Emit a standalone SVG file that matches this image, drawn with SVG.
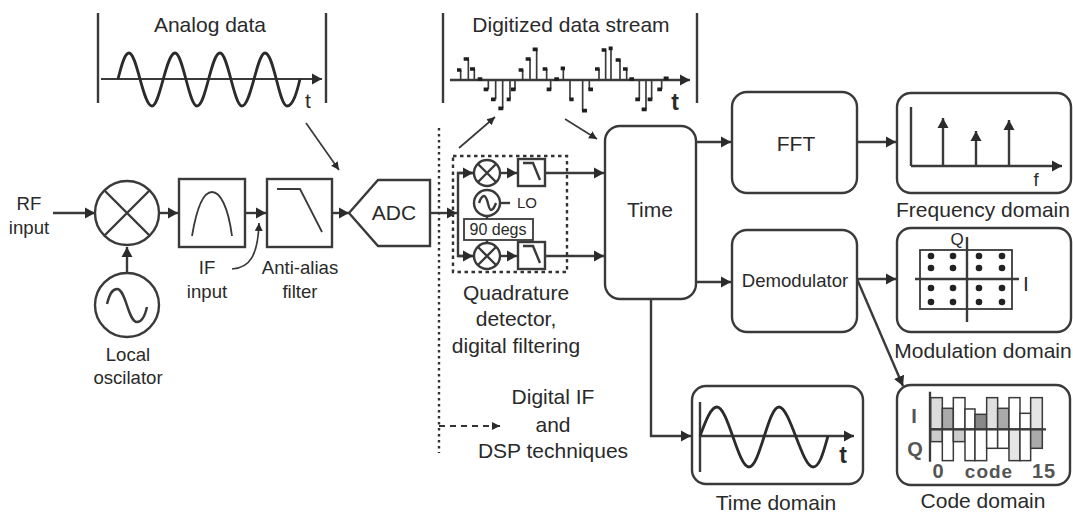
<svg xmlns="http://www.w3.org/2000/svg" width="1073" height="512" viewBox="0 0 1073 512">
<style>
text{font-family:"Liberation Sans",Arial,sans-serif;fill:#2a2a2a;font-size:21px;text-anchor:middle}
.s{font-size:18.6px}
.b{font-weight:bold}
.g{fill:#555}
.box{fill:#fff;stroke:#3a3a3a;stroke-width:2.4}
.ln{fill:none;stroke:#3a3a3a;stroke-width:2.4}
.th{fill:none;stroke:#3a3a3a;stroke-width:1.8}
.wave{fill:none;stroke:#2b2b2b;stroke-width:2.8}
.arr{fill:none;stroke:#3a3a3a;stroke-width:2.4;marker-end:url(#ah)}
.arrt{fill:none;stroke:#3a3a3a;stroke-width:1.7;marker-end:url(#ahs)}
.dot{fill:none;stroke:#333;stroke-width:2.4;stroke-dasharray:2.5 3.5}
.dash{fill:none;stroke:#333;stroke-width:1.8;stroke-dasharray:6 5;marker-end:url(#ahs)}
circle.d{fill:#222;stroke:none}
</style>
<defs>
<marker id="ah" markerUnits="userSpaceOnUse" markerWidth="11" markerHeight="12" refX="10" refY="6" orient="auto"><path d="M0 0.5L10 6L0 11.5Z" fill="#2b2b2b"/></marker>
<marker id="ahs" markerUnits="userSpaceOnUse" markerWidth="9" markerHeight="10" refX="8" refY="5" orient="auto"><path d="M0 1L8 5L0 9Z" fill="#2b2b2b"/></marker>
<g id="mix"><circle r="13" class="box"/><path d="M-9-9L9 9M9-9L-9 9" class="ln"/></g>
<g id="lp"><rect x="0" y="0" width="27" height="27" class="box"/><path d="M5 4H15L22 21" class="ln"/></g>
</defs>

<g id="connectors">
<path d="M53 213H95" class="arr"/>
<path d="M159 213H178" class="arr"/>
<path d="M245 213H266" class="arr"/>
<path d="M332 213H349" class="arr"/>
<path d="M127 272V247" class="arr"/>
<path d="M232 269C250 268 258 255 259 223" class="arrt"/>
<path d="M306 123L339 170" class="arrt"/>
<path d="M430 213H457" class="arr"/>
<path d="M473 173H458V256H473" class="ln"/>
<path d="M458 173H473" class="arr"/>
<path d="M458 256H473" class="arr"/>
<path d="M500 173H517" class="arr"/>
<path d="M500 256H517" class="arr"/>
<path d="M545 173H604" class="arr"/>
<path d="M545 256H604" class="arr"/>
<path d="M500 203H510" class="ln"/>
<path d="M487 216V219M487 240V243" class="ln"/>
<path d="M459 148L495 117" class="arrt"/>
<path d="M565 119L597 139" class="arrt"/>
<path d="M696 142H731" class="arr"/>
<path d="M857 142H896" class="arr"/>
<path d="M696 282H731" class="arr"/>
<path d="M857 279H896" class="arr"/>
<path d="M857 279L903 386" class="arr"/>
<path d="M651 299V436H691" class="arr"/>
<path d="M439 128V453" class="dot"/>
<path d="M439 426H500" class="dash"/>
</g>

<g id="rf-input"><text class="s" x="29" y="210">RF</text><text class="s" x="29" y="234">input</text></g>
<g id="mixer"><circle cx="127" cy="213" r="32" class="box"/><path d="M104 190L150 236M150 190L104 236" class="ln"/></g>
<g id="local-oscillator"><circle cx="127" cy="305" r="32" class="box"/><path d="M107 304C110 292 113 289 117 289C126 289 128 322 137 322C142 322 145 316 147 307" class="ln"/><text class="s" x="128" y="361">Local</text><text class="s" x="128" y="384">oscilator</text></g>
<g id="if-filter"><rect x="179" y="179" width="66" height="68" class="box"/><path d="M192 236C197 206 204 192 212 192C220 192 228 206 232 236" class="th"/><text class="s" x="207" y="274">IF</text><text class="s" x="207" y="298">input</text></g>
<g id="anti-alias"><rect x="267" y="179" width="65" height="68" class="box"/><path d="M277 189H300L322 232" class="th"/><text class="s" x="300" y="274">Anti-alias</text><text class="s" x="300" y="298">filter</text></g>
<g id="adc"><path d="M349 213L378 180H430V246H378Z" class="box"/><text x="394" y="220">ADC</text></g>

<g id="analog-data">
<text x="210" y="32">Analog data</text>
<path d="M98 13V103M326 13V103" class="ln"/>
<path d="M101 79H322" class="arr" style="stroke-width:2"/>
<path d="M118 79C122 63 125 53 129 53C137 53 143 106 152 106C160 106 166 53 175 53C183 53 189 106 197 106C206 106 211 53 220 53C228 53 234 106 242 106C251 106 257 53 265 53C274 53 279 106 287 106C293 106 297 92 300 79" class="wave"/>
<text x="308" y="108">t</text>
</g>

<g id="digitized-data">
<text x="571" y="32">Digitized data stream</text>
<path d="M443 13V103M697 13V103" class="ln"/>
<path d="M450 80H690" class="arr"/>
<path transform="translate(430 0) scale(.3333)" fill="none" stroke="#3a3a3a" stroke-width="5" d="M92 240V210M115 240V177M133 240V207M175 240V268M197 240V298M218 240V325M240 240V298M255 240V268M278 240V210M300 240V177M320 240V148M350 240V207M362 240V268M400 240V205M420 240V298M458 240V332M478 240V268M507 240V207M527 240V150M543 240V145M570 240V180M590 240V207M628 240V298M648 240V328M665 240V298M695 240V268"/>
<path transform="translate(430 0) scale(.3333)" fill="none" stroke="#1e1e1e" stroke-width="11" d="M81 210H94M101 177H117M120 207H135M143 237H157M161 268H175M183 298H197M205 325H220M230 298H242M243 268H257M266 210H280M287 177H302M308 148H323M338 207H352M350 268H364M373 237H387M392 205H405M418 298H431M456 332H471M475 268H489M495 207H509M515 150H529M536 145H548M557 180H572M579 207H593M598 237H612M616 298H630M635 328H650M653 298H667M682 268H696M701 235H716"/>
<text class="b" x="675" y="110" style="font-size:23px">t</text>
</g>

<g id="quadrature-detector">
<rect x="453" y="156" width="114" height="116" fill="none" stroke="#333" stroke-width="2.4" stroke-dasharray="3.5 3.5"/>
<use href="#mix" x="487" y="173"/>
<use href="#mix" x="487" y="256"/>
<use href="#lp" x="518" y="159"/>
<use href="#lp" x="518" y="242"/>
<circle cx="487" cy="203" r="13" class="box"/>
<path d="M479 203C481 197 483 196 484 196C488 196 488 210 491 210C493 210 494 208 496 203" class="ln"/>
<text x="517" y="208" style="font-size:15px;text-anchor:start">LO</text>
<rect x="464" y="219" width="69" height="21" class="box" style="stroke-width:1.8"/>
<text x="498" y="235" style="font-size:16px">90 degs</text>
<text x="516" y="300">Quadrature</text>
<text x="516" y="326">detector,</text>
<text x="516" y="353">digital filtering</text>
</g>

<g id="time"><rect x="605" y="126" width="91" height="173" rx="15" class="box"/><text x="650" y="217">Time</text></g>
<g id="fft"><rect x="732" y="92" width="125" height="101" rx="15" class="box"/><text x="796" y="151">FFT</text></g>
<g id="demodulator"><rect x="732" y="230" width="125" height="102" rx="15" class="box"/><text class="s" x="795" y="287">Demodulator</text></g>

<g id="frequency-domain">
<rect x="897" y="93" width="174" height="100" rx="14" class="box"/>
<path d="M911 107V166" class="ln"/>
<path d="M911 166H1062" class="arr"/>
<path d="M943 166V118" class="arr"/>
<path d="M976 166V131" class="arr"/>
<path d="M1009 166V120" class="arr"/>
<text class="s" x="1036" y="186">f</text>
<text x="983" y="217">Frequency domain</text>
</g>

<g id="modulation-domain">
<rect x="897" y="228" width="174" height="104" rx="14" class="box"/>
<rect x="920" y="250" width="92" height="59" class="th" style="fill:#fff"/>
<path d="M915 279H1019M967 237V322" class="ln"/>
<g>
<circle class="d" cx="931" cy="256" r="3.3"/><circle class="d" cx="953" cy="256" r="3.3"/><circle class="d" cx="979" cy="256" r="3.3"/><circle class="d" cx="1002" cy="256" r="3.3"/>
<circle class="d" cx="931" cy="268" r="3.3"/><circle class="d" cx="953" cy="268" r="3.3"/><circle class="d" cx="979" cy="268" r="3.3"/><circle class="d" cx="1002" cy="268" r="3.3"/>
<circle class="d" cx="931" cy="288" r="3.3"/><circle class="d" cx="953" cy="288" r="3.3"/><circle class="d" cx="979" cy="288" r="3.3"/><circle class="d" cx="1002" cy="288" r="3.3"/>
<circle class="d" cx="931" cy="302" r="3.3"/><circle class="d" cx="953" cy="302" r="3.3"/><circle class="d" cx="979" cy="302" r="3.3"/><circle class="d" cx="1002" cy="302" r="3.3"/>
</g>
<text x="957" y="245" style="font-size:17px">Q</text>
<text x="1026" y="291" style="font-size:21px">I</text>
<text x="983" y="358">Modulation domain</text>
</g>

<g id="code-domain">
<rect x="897" y="385" width="173" height="100" rx="14" class="box"/>
<g transform="translate(890 220) scale(.3333)" stroke="#3a3a3a" stroke-width="4.5">
<rect x="122" y="533" width="35" height="95" fill="#dcdcdc"/><rect x="157" y="565" width="33" height="63" fill="#aaa"/><rect x="190" y="533" width="35" height="95" fill="#fff"/><rect x="225" y="567" width="30" height="61" fill="#fff"/><rect x="255" y="583" width="35" height="45" fill="#888"/><rect x="290" y="533" width="33" height="95" fill="#e0e0e0"/><rect x="323" y="565" width="34" height="63" fill="#aaa"/><rect x="357" y="533" width="33" height="95" fill="#fff"/><rect x="390" y="580" width="32" height="48" fill="#fff"/><rect x="422" y="533" width="35" height="95" fill="#e5e5e5"/>
<rect x="122" y="628" width="35" height="37" fill="#ccc"/><rect x="157" y="628" width="33" height="94" fill="#fff"/><rect x="190" y="628" width="35" height="37" fill="#ccc"/><rect x="225" y="628" width="30" height="94" fill="#fff"/><rect x="255" y="628" width="35" height="94" fill="#fff"/><rect x="290" y="628" width="33" height="57" fill="#fff"/><rect x="323" y="628" width="34" height="57" fill="#fff"/><rect x="357" y="628" width="33" height="94" fill="#e5e5e5"/><rect x="390" y="628" width="32" height="94" fill="#fff"/><rect x="422" y="628" width="35" height="57" fill="#aaa"/>
<path d="M120 628H468M120 515V725" fill="none" stroke-width="7"/>
</g>
<text class="b g" x="914" y="423" style="font-size:20px">I</text>
<text class="b g" x="915" y="456" style="font-size:20px">Q</text>
<text class="b g" x="938" y="478" style="font-size:20px">0</text>
<text class="b g" x="989" y="478" style="font-size:19px;letter-spacing:1px">code</text>
<text class="b g" x="1044" y="478" style="font-size:20px;letter-spacing:1px">15</text>
<text x="983" y="508">Code domain</text>
</g>

<g id="time-domain">
<rect x="692" y="386" width="171" height="98" rx="14" class="box"/>
<path d="M700 402V472" class="ln"/>
<path d="M700 436H854" class="arr"/>
<path d="M700 436C706 420 711 407 717 407C728 407 738 467 749 467C760 467 768 407 779 407C790 407 802 467 813 467C820 467 824 450 828 436" class="wave"/>
<text class="b" x="843" y="463" style="font-size:23px">t</text>
<text x="776" y="510">Time domain</text>
</g>

<g id="dsp-label"><text x="553" y="404">Digital IF</text><text x="553" y="432">and</text><text x="553" y="458">DSP techniques</text></g>
</svg>
